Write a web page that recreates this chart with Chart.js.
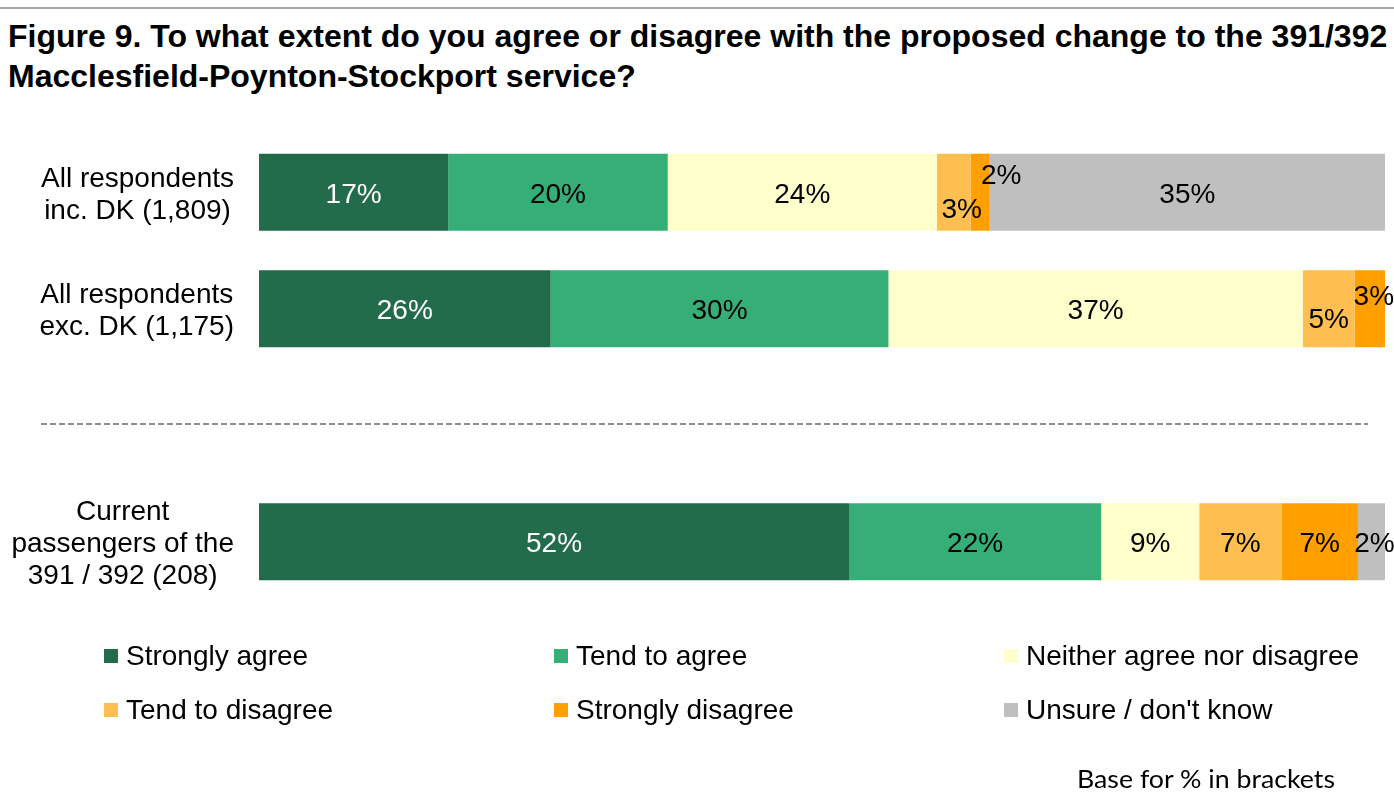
<!DOCTYPE html>
<html>
<head>
<meta charset="utf-8">
<script src="https://cdn.jsdelivr.net/npm/chart.js@4.4.1/dist/chart.umd.min.js"></script>
<style>
html,body{margin:0;padding:0;background:#fff;}
body{width:1394px;height:800px;position:relative;overflow:hidden;font-family:"Liberation Sans",Arial,sans-serif;color:#000;}
#topline{position:absolute;left:0;top:7px;width:1394px;height:2px;background:#a6a6a6;}
#title{position:absolute;left:8px;top:16px;font-weight:bold;font-size:32px;line-height:40px;white-space:nowrap;transform-origin:0 0;}
#wrap{position:absolute;left:0;top:0;width:1394px;height:800px;}
.lg{position:absolute;height:40px;display:flex;align-items:center;font-size:28px;white-space:nowrap;}
.lg i{display:inline-block;width:14px;height:14px;margin-right:8px;flex:none;}
#foot{position:absolute;left:1077px;top:763px;font-family:Lato,"Open Sans",sans-serif;font-size:25px;line-height:30px;white-space:nowrap;transform-origin:0 0;}
</style>
</head>
<body>
<div id="topline"></div>
<div id="title">Figure 9. To what extent do you agree or disagree with the proposed change to the 391/392<br>Macclesfield-Poynton-Stockport service?</div>
<div id="wrap"><canvas id="c" width="1394" height="800"></canvas></div>
<div id="legend"></div>
<div id="foot">Base for % in brackets</div>
<script>
// ---- data ----
const categories = [
  ["All respondents", "inc. DK (1,809)"],
  ["All respondents", "exc. DK (1,175)"],
  "",
  ["Current", "passengers of the", "391 / 392 (208)"]
];
const seriesNames = ["Strongly agree", "Tend to agree", "Neither agree nor disagree", "Tend to disagree", "Strongly disagree", "Unsure / don't know"];
const stronglyAgree    = [16.8, 25.9, null, 52.4];
const tendToAgree      = [19.5, 30.0, null, 22.4];
const neither          = [23.9, 36.8, null, 8.7];
const tendToDisagree   = [3.0, 4.6, null, 7.3];
const stronglyDisagree = [1.7, 2.7, null, 6.8];
const unsure           = [35.1, 0, null, 2.4];

// ---- styles ----
const colors = ["#226b4b", "#36ae78", "#ffffcc", "#ffbf50", "#ffa000", "#bfbfbf"];
const labelNudge = {"3,0":[8,15], "4,0":[21,-19], "3,1":[0,9], "4,1":[4,-14], "5,3":[3,0]};
const FONT = '28px "Liberation Sans", Arial, sans-serif';

const seriesData = [stronglyAgree, tendToAgree, neither, tendToDisagree, stronglyDisagree, unsure];

const barLabels = {
  id: 'barLabels',
  afterDatasetsDraw(chart) {
    const ctx = chart.ctx;
    ctx.save();
    ctx.font = FONT;
    ctx.textAlign = 'center';
    ctx.textBaseline = 'middle';
    chart.data.datasets.forEach((ds, di) => {
      const meta = chart.getDatasetMeta(di);
      meta.data.forEach((el, i) => {
        const v = ds.data[i];
        if (v == null || v <= 0) return;
        const n = labelNudge[di + ',' + i] || [0, 0];
        const p = el.getProps(['x', 'y', 'base'], true);
        ctx.fillStyle = di === 0 ? '#ffffff' : '#000000';
        ctx.fillText(Math.round(v) + '%', (p.x + p.base) / 2 + n[0], p.y + n[1] + 3);
      });
    });
    ctx.restore();
  }
};

const categoryLabels = {
  id: 'categoryLabels',
  afterDraw(chart) {
    const ctx = chart.ctx;
    const ys = chart.scales.y;
    ctx.save();
    ctx.font = FONT;
    ctx.fillStyle = '#000';
    ctx.textAlign = 'center';
    ctx.textBaseline = 'middle';
    chart.data.labels.forEach((lab, i) => {
      const lines = Array.isArray(lab) ? lab : [lab];
      if (!lines.join('')) return;
      const w = Math.max(...lines.map(l => ctx.measureText(l).width));
      const cx = chart.chartArea.left - 25 - w / 2;
      const cy = ys.getPixelForValue(i);
      const lh = 32;
      lines.forEach((l, k) => ctx.fillText(l, cx, cy + (k - (lines.length - 1) / 2) * lh + 3));
    });
    // dashed separator through the empty category
    const sy = Math.round(ys.getPixelForValue(2)) - 1;
    ctx.strokeStyle = '#8c8c8c';
    ctx.lineWidth = 2;
    ctx.setLineDash([6, 3]);
    ctx.beginPath();
    ctx.moveTo(41, sy);
    ctx.lineTo(1368, sy);
    ctx.stroke();
    ctx.restore();
  }
};

const chart = new Chart(document.getElementById('c'), {
  type: 'bar',
  data: {
    labels: categories,
    datasets: seriesNames.map((name, i) => ({
      label: name,
      data: seriesData[i],
      backgroundColor: colors[i],
      borderWidth: 0,
      categoryPercentage: 1,
      barPercentage: 0.66
    }))
  },
  options: {
    indexAxis: 'y',
    responsive: false,
    animation: false,
    devicePixelRatio: 1,
    layout: { padding: { left: 259, right: 9, top: 134, bottom: 200 } },
    plugins: { legend: { display: false }, tooltip: { enabled: false }, title: { display: false } },
    scales: {
      x: { display: false, stacked: true, min: 0, max: 100 },
      y: { display: false, stacked: true }
    }
  },
  plugins: [barLabels, categoryLabels]
});

// HTML legend generated from the chart's datasets
const legend = document.getElementById('legend');
chart.data.datasets.forEach((ds, i) => {
  const col = i % 3, row = Math.floor(i / 3);
  const d = document.createElement('div');
  d.className = 'lg';
  d.style.left = (104 + col * 450) + 'px';
  d.style.top = (636 + row * 54) + 'px';
  const m = document.createElement('i');
  m.style.background = ds.backgroundColor;
  d.appendChild(m);
  d.appendChild(document.createTextNode(ds.label));
  legend.appendChild(d);
});

// fit title line 1 and footnote widths
(function(){
  const t = document.getElementById('title');
  const r = document.createElement('span');
  r.style.cssText = 'font-weight:bold;font-size:32px;white-space:nowrap;position:absolute;visibility:hidden;font-family:"Liberation Sans",Arial,sans-serif';
  r.textContent = 'Figure 9. To what extent do you agree or disagree with the proposed change to the 391/392';
  document.body.appendChild(r);
  const k = 1382 / r.getBoundingClientRect().width;
  r.remove();
  if (Math.abs(k - 1) > 0.01) t.style.transform = 'scaleX(' + k.toFixed(4) + ')';
  const f = document.getElementById('foot');
  const kf = 258 / f.getBoundingClientRect().width;
  f.style.transform = 'scaleX(' + kf.toFixed(4) + ')';
})();
</script>
</body>
</html>
